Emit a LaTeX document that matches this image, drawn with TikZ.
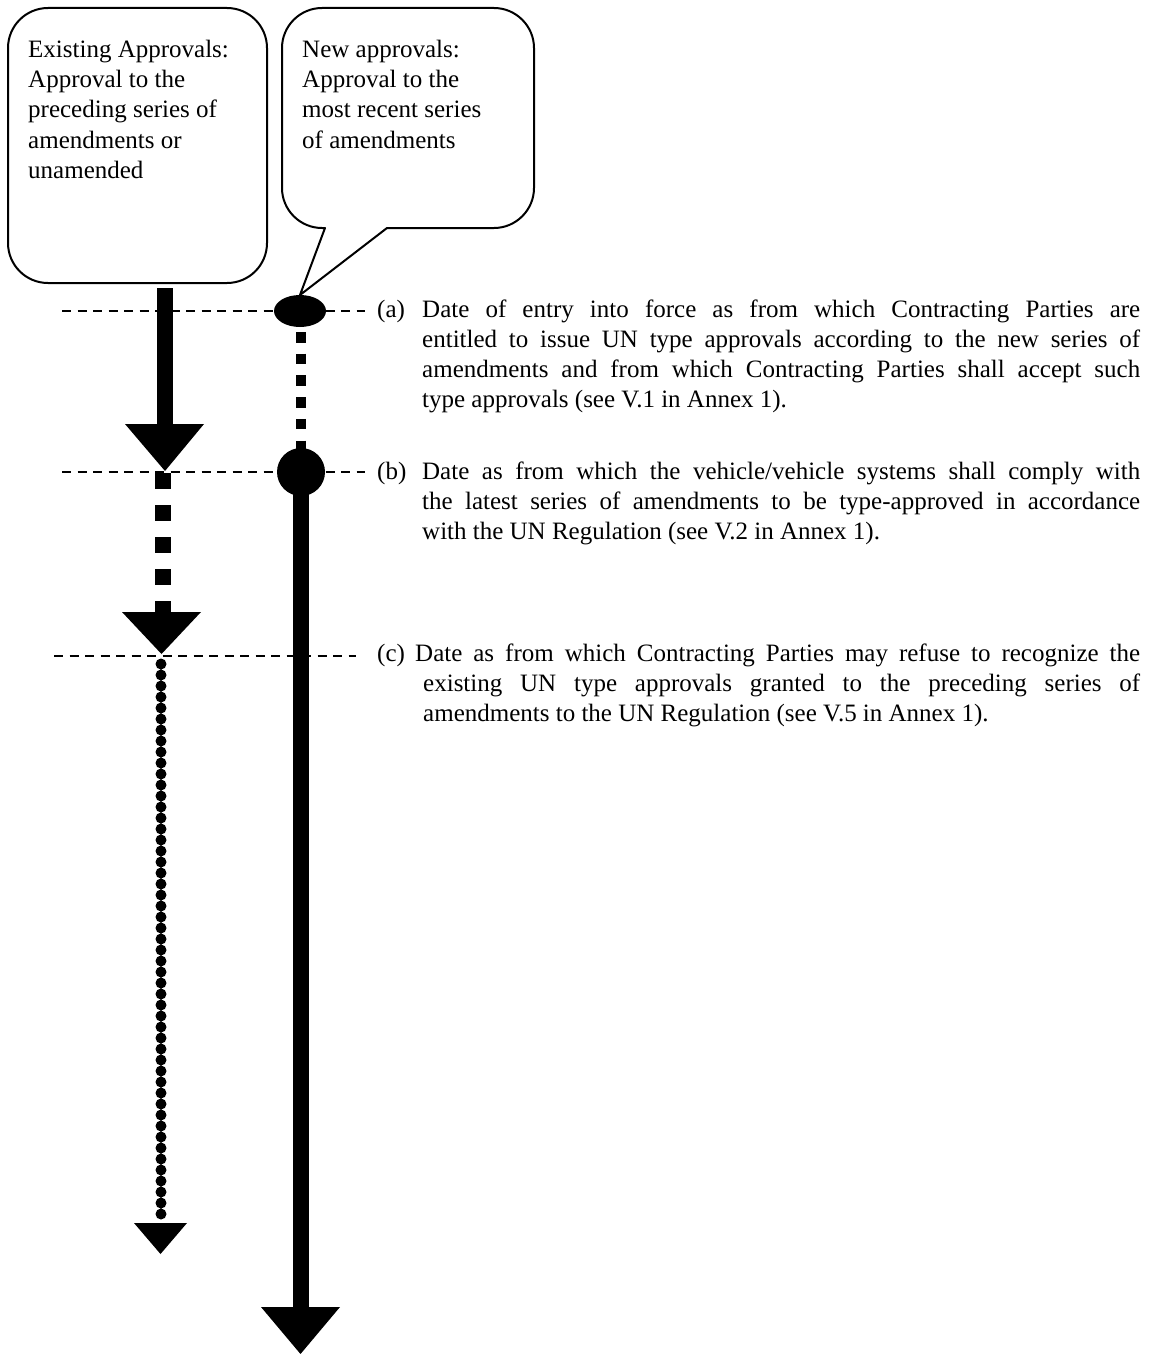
\documentclass[tikz,border=0pt]{standalone}
\usepackage{fontspec}
\setmainfont{Liberation Serif}
\newcommand\dfont{\fontsize{25pt}{30pt}\selectfont}
\tikzset{
  callout/.style={line width=2pt, line join=round},
  guide/.style={line width=1.3pt, dash pattern=on 9pt off 6.5pt},
  solidshaft/.style={line width=16pt},
  headfill/.style={fill=black},
  txt/.style={anchor=base west, inner sep=0pt, font=\dfont}
}
\begin{document}
\begin{tikzpicture}[x=1pt,y=-1pt]
\useasboundingbox (0,0) rectangle (1155,1354);

% callout boxes
\draw[callout, rounded corners=40pt] (8,8) rectangle (267,283);
\draw[callout] (300,295) -- (325,228) -- (322,228) .. controls (300,228) and (282,210) .. (282,188)
  -- (282,48) .. controls (282,26) and (300,8) .. (322,8)
  -- (494,8) .. controls (516,8) and (534,26) .. (534,48)
  -- (534,188) .. controls (534,210) and (516,228) .. (494,228)
  -- (387,228) -- cycle;

\node[txt] (exist) at (28,58) {\parbox[t]{235pt}{\dfont\raggedright Existing Approvals:\\Approval to the\\preceding series of\\amendments or\\unamended}};
\node[txt] (new) at (302,58) {\parbox[t]{228pt}{\dfont\raggedright New approvals:\\Approval to the\\most recent series\\of amendments}};

% guide lines
\coordinate (ga1) at (62,311);  \coordinate (ga2) at (365,311);
\coordinate (gb1) at (62,472);  \coordinate (gb2) at (365,472);
\coordinate (gc1) at (54,656);  \coordinate (gc2) at (356,656);
\draw[guide] (ga1) -- (ga2);
\draw[guide] (gb1) -- (gb2);
\draw[guide] (gc1) -- (gc2);

% left column: existing approvals
\coordinate (l0) at (165,288);
\coordinate (l1) at (165,425);
\draw[solidshaft] (l0) -- (l1);
\fill[headfill] (125,424) -- (204,424) -- (165,471) -- cycle;

\coordinate (l2) at (163,473);
\coordinate (l3) at (163,613);
\draw[line width=16pt, dash pattern=on 15.5pt off 16.5pt] (l2) -- (l3);
\fill[headfill] (122,612) -- (201,612) -- (161.5,654) -- cycle;

\coordinate (l4) at (161,664);
\coordinate (l5) at (161,1218);
\draw[line width=11pt, line cap=round, dash pattern=on 0pt off 11pt] (l4) -- (l5);
\fill[headfill] (134,1223) -- (187,1223) -- (160.5,1254) -- cycle;

% right column: new approvals
\coordinate (r0) at (301,332);
\coordinate (r1) at (301,452);
\draw[line width=10pt, dash pattern=on 10.5pt off 11.2pt] (r0) -- (r1);
\fill (300,311) ellipse [x radius=26pt, y radius=16pt];
\coordinate (r2) at (301,472);
\coordinate (r3) at (301,1308);
\draw[solidshaft] (r2) -- (r3);
\fill (r2) circle [radius=24pt];
\fill[headfill] (261,1307) -- (340,1307) -- (300.5,1354) -- cycle;

% descriptions
\node[txt] (ta) at (377,317) {\parbox[t]{763pt}{\dfont\hangindent=45pt\hangafter=1 \makebox[45pt][l]{(a)}Date of entry into force as from which Contracting Parties are\linebreak entitled to issue UN type approvals according to the new series of\linebreak amendments and from which Contracting Parties shall accept such\linebreak type approvals (see V.1 in Annex 1).}};
\node[txt] (tb) at (377,479) {\parbox[t]{763pt}{\dfont\hangindent=45pt\hangafter=1 \makebox[45pt][l]{(b)}Date as from which the vehicle/vehicle systems shall comply with\linebreak the latest series of amendments to be type-approved in accordance\linebreak with the UN Regulation (see V.2 in Annex 1).}};
\node[txt] (tc) at (377,661) {\parbox[t]{763pt}{\dfont\hangindent=46pt\hangafter=1 \makebox[38pt][l]{(c)}Date as from which Contracting Parties may refuse to recognize the\linebreak existing UN type approvals granted to the preceding series of\linebreak amendments to the UN Regulation (see V.5 in Annex 1).}};
\end{tikzpicture}
\end{document}
